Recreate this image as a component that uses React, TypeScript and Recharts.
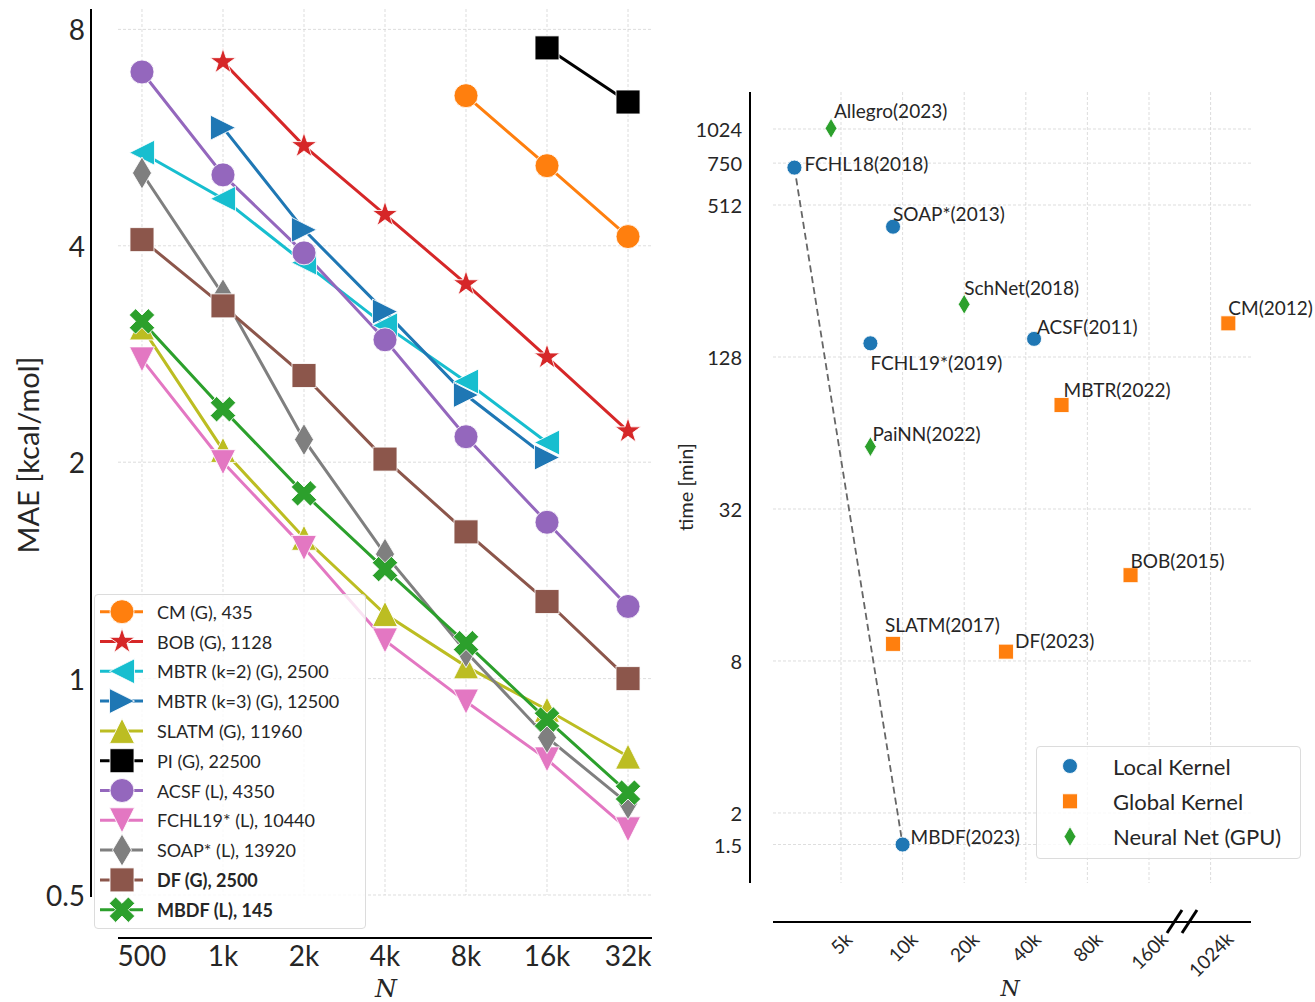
import React from 'react';
import { LineChart, Line, XAxis, YAxis, CartesianGrid, Legend, ScatterChart, Scatter } from 'recharts';

const FONT = "Lato, 'Open Sans', 'DejaVu Sans', sans-serif";
const SERIF = "'DejaVu Serif', 'Liberation Serif', serif";
const TEXT = '#262626';
const GRID = '#d4d4d4';

// ---------------- Left panel data (MAE in kcal/mol vs training size N) ----------------
const N_LABELS = ['500', '1k', '2k', '4k', '8k', '16k', '32k'];
const Y_TICKS_LEFT = [0.5, 1, 2, 4, 8];

const cmMae = [null, null, null, null, 6.47, 5.17, 4.12];
const bobMae = [null, 7.21, 5.51, 4.42, 3.54, 2.8, 2.21];
const mbtr2Mae = [5.39, 4.65, 3.79, 3.1, 2.59, 2.13, null];
const mbtr3Mae = [null, 5.84, 4.21, 3.24, 2.48, 2.03, null];
const slatmMae = [3.08, 2.08, 1.57, 1.23, 1.04, 0.905, 0.779];
const piMae = [null, null, null, null, null, 7.54, 6.34];
const acsfMae = [6.98, 5.02, 3.91, 2.96, 2.17, 1.65, 1.26];
const fchl19Mae = [2.78, 2.0, 1.52, 1.13, 0.929, 0.772, 0.617];
const soapMae = [5.05, 3.42, 2.15, 1.49, 1.09, 0.828, 0.67];
const dfMae = [4.08, 3.3, 2.64, 2.02, 1.6, 1.28, 1.0];
const mbdfMae = [3.14, 2.37, 1.81, 1.42, 1.12, 0.877, 0.694];

type Shape = 'circle' | 'star' | 'tri-left' | 'tri-right' | 'tri-up' | 'tri-down' | 'square' | 'thin-diamond' | 'x';

const SERIES: { key: string; name: string; color: string; shape: Shape; values: (number | null)[]; bold?: boolean }[] = [
  { key: 'cm', name: 'CM (G), 435', color: '#ff7f0e', shape: 'circle', values: cmMae },
  { key: 'bob', name: 'BOB (G), 1128', color: '#d62728', shape: 'star', values: bobMae },
  { key: 'mbtr2', name: 'MBTR (k=2) (G), 2500', color: '#17becf', shape: 'tri-left', values: mbtr2Mae },
  { key: 'mbtr3', name: 'MBTR (k=3) (G), 12500', color: '#1f77b4', shape: 'tri-right', values: mbtr3Mae },
  { key: 'slatm', name: 'SLATM (G), 11960', color: '#bcbd22', shape: 'tri-up', values: slatmMae },
  { key: 'pi', name: 'PI (G), 22500', color: '#000000', shape: 'square', values: piMae },
  { key: 'acsf', name: 'ACSF (L), 4350', color: '#9467bd', shape: 'circle', values: acsfMae },
  { key: 'fchl19', name: 'FCHL19* (L), 10440', color: '#e377c2', shape: 'tri-down', values: fchl19Mae },
  { key: 'soap', name: 'SOAP* (L), 13920', color: '#7f7f7f', shape: 'thin-diamond', values: soapMae },
  { key: 'df', name: 'DF (G), 2500', color: '#8c564b', shape: 'square', values: dfMae, bold: true },
  { key: 'mbdf', name: 'MBDF (L), 145', color: '#2ca02c', shape: 'x', values: mbdfMae, bold: true },
];

const leftRows = N_LABELS.map((label, i) => {
  const row: any = { i, label };
  SERIES.forEach((s) => {
    row[s.key] = s.values[i];
  });
  return row;
});

// ---------------- Right panel data (training time vs N) ----------------
const METHOD_NAMES = [
  'Allegro(2023)', 'FCHL18(2018)', 'SOAP*(2013)', 'SchNet(2018)', 'CM(2012)', 'ACSF(2011)',
  'FCHL19*(2019)', 'MBTR(2022)', 'PaiNN(2022)', 'BOB(2015)', 'SLATM(2017)', 'DF(2023)', 'MBDF(2023)',
];
const METHOD_N_K = [4.47, 2.96, 8.98, 20, 1250, 43.9, 6.96, 59.8, 6.96, 130, 8.98, 32, 10];
const METHOD_TIME_MIN = [1030, 720, 420, 207, 174, 151, 145, 82.6, 56.5, 17.5, 9.35, 8.71, 1.5];
const METHOD_KIND = [
  'neural', 'local', 'local', 'neural', 'global', 'local',
  'local', 'global', 'neural', 'global', 'global', 'global', 'local',
];
const X_TICK_N_K = [5, 10, 20, 40, 80, 160, 1024];
const X_TICK_LABELS = ['5k', '10k', '20k', '40k', '80k', '160k', '1024k'];
const Y_TICKS_RIGHT = [1.5, 2, 8, 32, 128, 512, 750, 1024];

const KINDS = [
  { kind: 'local', name: 'Local Kernel', color: '#1f77b4', shape: 'circle' as Shape },
  { kind: 'global', name: 'Global Kernel', color: '#ff7f0e', shape: 'square' as Shape },
  { kind: 'neural', name: 'Neural Net (GPU)', color: '#2ca02c', shape: 'thin-diamond' as Shape },
];

// annotation text placement relative to the marker (dx, dy)
const LABEL_OFFSET: Record<string, [number, number]> = {
  'Allegro(2023)': [3, -18],
  'FCHL18(2018)': [10, -4],
  'SOAP*(2013)': [0, -13],
  'SchNet(2018)': [0, -17],
  'CM(2012)': [0, -16],
  'ACSF(2011)': [3, -12],
  'FCHL19*(2019)': [0, 19],
  'MBTR(2022)': [2, -16],
  'PaiNN(2022)': [2, -13],
  'BOB(2015)': [0, -15],
  'SLATM(2017)': [-8, -19],
  'DF(2023)': [9, -11],
  'MBDF(2023)': [8, -8],
};

// broken log2 axis: 5k..160k continuous, then a break to 1024k
const brokenLog2 = (nk: number) => (nk <= 160 ? Math.log2(nk / 5) : 6 + Math.log2(nk / 1024));
const X_TICK_POS = X_TICK_N_K.map(brokenLog2);

const rightPoints = METHOD_NAMES.map((name, j) => ({
  name,
  x: brokenLog2(METHOD_N_K[j]),
  t: METHOD_TIME_MIN[j],
  kind: METHOD_KIND[j],
}));
const dashData = ['FCHL18(2018)', 'MBDF(2023)'].map((n) => rightPoints.find((p) => p.name === n)!);

// ---------------- Markers ----------------
function starPoints(cx: number, cy: number, R: number) {
  const r = R * 0.382;
  const pts: string[] = [];
  for (let j = 0; j < 10; j++) {
    const a = -Math.PI / 2 + (j * Math.PI) / 5;
    const rad = j % 2 === 0 ? R : r;
    pts.push(`${cx + rad * Math.cos(a)},${cy + rad * Math.sin(a)}`);
  }
  return pts.join(' ');
}
function xPoints(cx: number, cy: number, L: number, w: number) {
  const base = [[w, L], [w, w], [L, w], [L, -w], [w, -w], [w, -L], [-w, -L], [-w, -w], [-L, -w], [-L, w], [-w, w], [-w, L]];
  const c = Math.SQRT1_2;
  return base.map(([x, y]) => `${cx + (x - y) * c},${cy + (x + y) * c}`).join(' ');
}

function Marker({ shape, cx, cy, color, k = 1 }: { shape: Shape; cx: number; cy: number; color: string; k?: number }) {
  const common = { fill: color, stroke: '#ffffff', strokeWidth: 1, strokeOpacity: 0.85 };
  const h = 12.5 * k;
  switch (shape) {
    case 'circle':
      return <circle cx={cx} cy={cy} r={12 * k} {...common} />;
    case 'square':
      return <rect x={cx - 12 * k} y={cy - 12 * k} width={24 * k} height={24 * k} {...common} />;
    case 'star':
      return <polygon points={starPoints(cx, cy, 13.5 * k)} {...common} />;
    case 'tri-left':
      return <polygon points={`${cx - h},${cy} ${cx + h},${cy - h} ${cx + h},${cy + h}`} {...common} />;
    case 'tri-right':
      return <polygon points={`${cx + h},${cy} ${cx - h},${cy - h} ${cx - h},${cy + h}`} {...common} />;
    case 'tri-up':
      return <polygon points={`${cx},${cy - h} ${cx - h},${cy + h} ${cx + h},${cy + h}`} {...common} />;
    case 'tri-down':
      return <polygon points={`${cx},${cy + h} ${cx - h},${cy - h} ${cx + h},${cy - h}`} {...common} />;
    case 'thin-diamond':
      return <polygon points={`${cx},${cy - 16 * k} ${cx + 9.5 * k},${cy} ${cx},${cy + 16 * k} ${cx - 9.5 * k},${cy}`} {...common} />;
    case 'x':
      return <polygon points={xPoints(cx, cy, 13.5 * k, 4.5 * k)} {...common} />;
    default:
      return null;
  }
}

// ---------------- Ticks ----------------
const fmtLeftY = (v: number) => (v === 0.5 ? '0.5' : String(v));

const LeftXTick = (p: any) => (
  <text x={p.x} y={955} textAnchor="middle" dominantBaseline="central" fontSize={28} fill={TEXT} fontFamily={FONT}>
    {N_LABELS[Math.round(p.payload.value)]}
  </text>
);
const LeftYTick = (p: any) => (
  <text x={85} y={p.y} textAnchor="end" dominantBaseline="central" fontSize={28} fill={TEXT} fontFamily={FONT}>
    {fmtLeftY(p.payload.value)}
  </text>
);
const RightXTick = (p: any) => {
  const idx = X_TICK_POS.findIndex((v) => Math.abs(v - p.payload.value) < 1e-6);
  const label = X_TICK_LABELS[idx] ?? '';
  const w = label.length * 10.5;
  const cy = 931 + (w + 13) / 2.83;
  return (
    <text x={p.x} y={cy} transform={`rotate(-45 ${p.x} ${cy})`} textAnchor="middle" dominantBaseline="central" fontSize={19} fill={TEXT} fontFamily={FONT}>
      {label}
    </text>
  );
};
const RightYTick = (p: any) => (
  <text x={82} y={p.y} textAnchor="end" dominantBaseline="central" fontSize={20} fill={TEXT} fontFamily={FONT}>
    {String(p.payload.value)}
  </text>
);

// ---------------- Legends ----------------
const LeftLegend = () => (
  <div style={{ position: 'relative', width: 272, height: 335, boxSizing: 'border-box', border: '1px solid #dcdcdc', borderRadius: 4, background: 'rgba(255,255,255,0.8)' }}>
    <svg width={272} height={335} style={{ position: 'absolute', left: -1, top: -1, overflow: 'visible' }}>
      {SERIES.map((s, j) => {
        const y = 17.7 + j * 29.8;
        return (
          <g key={s.key}>
            <line x1={6} x2={49} y1={y} y2={y} stroke={s.color} strokeWidth={3} />
            <Marker shape={s.shape} cx={28} cy={y} color={s.color} />
            <text x={63} y={y} dominantBaseline="central" fontSize={18} fontWeight={s.bold ? 700 : 400} fill={TEXT} fontFamily={FONT}>
              {s.name}
            </text>
          </g>
        );
      })}
    </svg>
  </div>
);

const RightLegend = () => (
  <div style={{ position: 'relative', width: 265, height: 113, boxSizing: 'border-box', border: '1px solid #dcdcdc', borderRadius: 4, background: 'rgba(255,255,255,0.8)' }}>
    <svg width={265} height={113} style={{ position: 'absolute', left: -1, top: -1, overflow: 'visible' }}>
      {KINDS.map((k, j) => {
        const y = 20 + j * 35.3;
        return (
          <g key={k.kind}>
            <Marker shape={k.shape} cx={34} cy={y} color={k.color} k={0.625} />
            <text x={77} y={y} dominantBaseline="central" fontSize={22} fill={TEXT} fontFamily={FONT}>
              {k.name}
            </text>
          </g>
        );
      })}
    </svg>
  </div>
);

const PointShape = (p: any) => {
  const kind = KINDS.find((k) => k.kind === p.payload.kind)!;
  const [dx, dy] = LABEL_OFFSET[p.payload.name] ?? [0, -14];
  return (
    <g>
      <Marker shape={kind.shape} cx={p.cx} cy={p.cy} color={kind.color} k={0.625} />
      <text x={p.cx + dx} y={p.cy + dy} dominantBaseline="central" fontSize={19} fill={TEXT} fontFamily={FONT}>
        {p.payload.name}
      </text>
    </g>
  );
};

export default function App() {
  return (
    <div style={{ position: 'absolute', left: 0, top: 0, width: 1315, height: 1002, background: '#ffffff', fontFamily: FONT, overflow: 'hidden' }}>
      {/* Left panel */}
      <div style={{ position: 'absolute', left: 0, top: 0 }}>
        <LineChart width={660} height={1002} data={leftRows} margin={{ top: 9, right: 8, bottom: 0, left: 0 }}>
          <CartesianGrid stroke={GRID} strokeDasharray="3 2" strokeWidth={0.8} syncWithTicks />
          <XAxis type="number" dataKey="i" domain={[-0.296, 6.296]} ticks={[0, 1, 2, 3, 4, 5, 6]} allowDataOverflow axisLine={false} tickLine={false} height={107} interval={0} tick={LeftXTick} />
          <YAxis type="number" scale="log" domain={[0.5, 8.54]} ticks={Y_TICKS_LEFT} allowDataOverflow axisLine={false} tickLine={false} width={118} interval={0} tick={LeftYTick} />
          {SERIES.map((s) => (
            <Line
              key={s.key}
              dataKey={s.key}
              stroke={s.color}
              strokeWidth={3}
              connectNulls={false}
              isAnimationActive={false}
              activeDot={false}
              dot={(p: any) =>
                p.cy == null || p.value == null || Number.isNaN(p.cy) ? (
                  <g key={`${s.key}-e-${p.index}`} />
                ) : (
                  <Marker key={`${s.key}-${p.index}`} shape={s.shape} cx={p.cx} cy={p.cy} color={s.color} />
                )
              }
            />
          ))}
          <Legend layout="vertical" align="center" verticalAlign="middle" wrapperStyle={{ left: 94, top: 594, width: 272, height: 335 }} content={() => <LeftLegend />} />
        </LineChart>
      </div>

      {/* Right panel */}
      <div style={{ position: 'absolute', left: 660, top: 0 }}>
        <ScatterChart width={655} height={1002} margin={{ top: 92, right: 64, bottom: 0, left: 0 }}>
          <CartesianGrid stroke={GRID} strokeDasharray="3 2" strokeWidth={0.8} syncWithTicks />
          <XAxis type="number" dataKey="x" domain={[-1.104, 6.656]} ticks={X_TICK_POS} axisLine={false} tickLine={false} height={119} interval={0} tick={RightXTick} />
          <YAxis type="number" dataKey="t" scale="log" domain={[1.056, 1435]} ticks={Y_TICKS_RIGHT} axisLine={false} tickLine={false} width={113} interval={0} tick={RightYTick} />
          <Scatter data={dashData} line={{ stroke: '#666666', strokeWidth: 1.8, strokeDasharray: '7 4' }} shape={() => <g />} isAnimationActive={false} legendType="none" />
          {KINDS.map((k) => (
            <Scatter key={k.kind} name={k.name} data={rightPoints.filter((p) => p.kind === k.kind)} shape={PointShape} isAnimationActive={false} />
          ))}
          <Legend layout="vertical" align="center" verticalAlign="middle" wrapperStyle={{ left: 376, top: 746, width: 265, height: 113 }} content={() => <RightLegend />} />
        </ScatterChart>
      </div>

      {/* Offset spines and axis titles */}
      <svg width={1315} height={1002} style={{ position: 'absolute', left: 0, top: 0, pointerEvents: 'none' }}>
        <line x1={91} x2={91} y1={9} y2={897} stroke="#000" strokeWidth={2} />
        <line x1={118} x2={652} y1={938} y2={938} stroke="#000" strokeWidth={2} />
        <text x={27} y={455} transform="rotate(-90 27 455)" textAnchor="middle" dominantBaseline="central" fontSize={29} fill={TEXT} fontFamily={FONT}>
          MAE [kcal/mol]
        </text>
        <text x={386} y={997} textAnchor="middle" fontSize={25} fontStyle="italic" fill={TEXT} fontFamily={SERIF}>
          N
        </text>

        <line x1={750} x2={750} y1={92} y2={883} stroke="#000" strokeWidth={2} />
        <line x1={773} x2={1251} y1={922} y2={922} stroke="#000" strokeWidth={2} />
        <line x1={1167} x2={1182} y1={933} y2={910} stroke="#000" strokeWidth={3} />
        <line x1={1182} x2={1197} y1={933} y2={910} stroke="#000" strokeWidth={3} />
        <text x={685} y={487} transform="rotate(-90 685 487)" textAnchor="middle" dominantBaseline="central" fontSize={20} fill={TEXT} fontFamily={FONT}>
          time [min]
        </text>
        <text x={1010} y={996} textAnchor="middle" fontSize={22} fontStyle="italic" fill={TEXT} fontFamily={SERIF}>
          N
        </text>
      </svg>
    </div>
  );
}
